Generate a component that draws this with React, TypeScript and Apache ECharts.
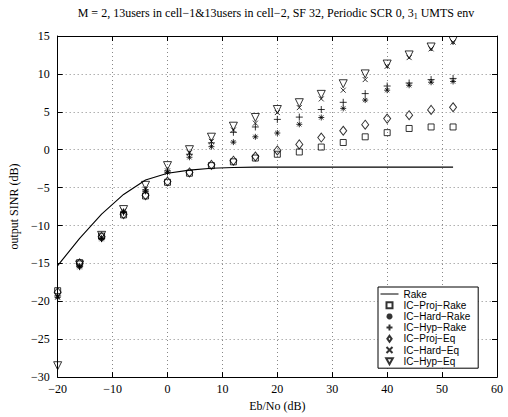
import React, { useEffect, useRef } from "react";
import * as echarts from "echarts";

const ebNo = [-20, -16, -12, -8, -4, 0, 4, 8, 12, 16, 20, 24, 28, 32, 36, 40, 44, 48, 52];
const rake = [-15.3, -11.7, -8.5, -5.9, -4.0, -3.1, -2.7, -2.45, -2.35, -2.3, -2.3, -2.3, -2.3, -2.3, -2.3, -2.3, -2.3, -2.3, -2.3];
const icProjRake = [-18.6, -14.9, -11.4, -8.6, -6.1, -4.3, -3.1, -2.1, -1.6, -1.1, -0.6, -0.3, 0.35, 0.95, 1.7, 2.25, 2.8, 3.0, 3.0];
const icHardRake = [-19.5, -15.5, -11.8, -8.3, -5.5, -3.0, -1.0, 0.4, 1.0, 1.7, 2.2, 3.35, 4.25, 5.45, 6.55, 7.85, 8.5, 8.9, 9.0];
const icHypRake = [-19.3, -15.4, -11.7, -8.2, -5.3, -2.8, -0.6, 0.9, 2.3, 3.0, 4.0, 4.3, 5.3, 6.25, 7.4, 8.4, 8.8, 9.25, 9.4];
const icProjEq = [-18.8, -15.0, -11.5, -8.5, -6.0, -4.2, -3.0, -2.0, -1.45, -0.9, -0.1, 0.7, 1.6, 2.5, 3.3, 4.1, 4.55, 5.25, 5.6];
const icHardEq = [-19.4, -15.3, -11.6, -8.1, -5.2, -2.8, -0.4, 1.1, 2.6, 3.5, 4.9, 5.55, 6.7, 7.85, 9.25, 11.0, 12.15, 13.3, 14.2];
const icHypEq = [-28.5, -15.2, -11.3, -7.9, -4.7, -2.1, 0.0, 1.65, 3.1, 4.25, 5.3, 6.2, 7.3, 8.7, 10.0, 11.3, 12.5, 13.55, 14.4];

const seriesNames = ["Rake", "IC\u2212Proj\u2212Rake", "IC\u2212Hard\u2212Rake", "IC\u2212Hyp\u2212Rake", "IC\u2212Proj\u2212Eq", "IC\u2212Hard\u2212Eq", "IC\u2212Hyp\u2212Eq"];
const titleText = "M = 2, 13users in cell\u22121&13users in cell\u22122, SF 32, Periodic SCR 0, 3{sub|1} UMTS env";
const xName = "Eb/No (dB)";
const yName = "output SINR (dB)";

const SERIF = "'Liberation Serif', 'DejaVu Serif', serif";
const SANS = "'Liberation Sans', Arial, sans-serif";

const zip = (ys: number[]) => ebNo.map((x, i) => [x, ys[i]]);
const minus = (v: number) => String(v).replace("-", "\u2212");

export default function App() {
  const ref = useRef<HTMLDivElement>(null);
  useEffect(() => {
    if (!ref.current) return;
    const chart = echarts.init(ref.current, null, { renderer: "svg" });
    const markerStyle = { color: "rgba(0,0,0,0)", borderColor: "#000", borderWidth: 1 };
    const scatter = (name: string, ys: number[], symbol: string, symbolSize: any) => ({
      name,
      type: "scatter",
      data: zip(ys),
      symbol,
      symbolSize,
      itemStyle: markerStyle,
      clip: false,
      z: 3,
    });
    const commonX = {
      type: "value",
      min: -20,
      max: 60,
      interval: 10,
      axisLine: { show: true, onZero: false, lineStyle: { color: "#000", width: 1 } },
      axisTick: { show: true, inside: true, length: 5, lineStyle: { color: "#000" } },
    };
    const commonY = {
      type: "value",
      min: -30,
      max: 15,
      interval: 5,
      axisLine: { show: true, onZero: false, lineStyle: { color: "#000", width: 1 } },
      axisTick: { show: true, inside: true, length: 5, lineStyle: { color: "#000" } },
    };
    chart.setOption({
      animation: false,
      backgroundColor: "#fff",
      grid: { left: 56, right: 11, top: 36, bottom: 32, containLabel: false },
      graphic: [
        {
          type: "text",
          x: 276,
          y: 13,
          style: {
            text: titleText,
            fontFamily: SERIF,
            fontSize: 12,
            fill: "#000",
            align: "center",
            verticalAlign: "middle",
            lineHeight: 15,
            rich: { sub: { fontSize: 8, fontFamily: SERIF, lineHeight: 15, verticalAlign: "bottom", padding: [7, 0, 0, 0] } },
          },
        },
      ],
      xAxis: [
        {
          ...commonX,
          position: "bottom",
          axisLabel: { color: "#000", fontFamily: SERIF, fontSize: 12, margin: 6, formatter: minus },
          splitLine: { show: true, lineStyle: { color: "#888", type: [1, 3], width: 1 } },
          name: xName,
          nameLocation: "middle",
          nameGap: 16,
          nameTextStyle: { color: "#000", fontFamily: SERIF, fontSize: 12 },
        },
        {
          ...commonX,
          position: "top",
          axisLabel: { show: false },
          splitLine: { show: false },
        },
      ],
      yAxis: [
        {
          ...commonY,
          position: "left",
          axisLabel: { color: "#000", fontFamily: SERIF, fontSize: 12, margin: 8, formatter: minus },
          splitLine: { show: true, lineStyle: { color: "#888", type: [1, 3], width: 1 } },
          name: yName,
          nameLocation: "middle",
          nameGap: 36,
          nameTextStyle: { color: "#000", fontFamily: SERIF, fontSize: 12 },
        },
        {
          ...commonY,
          position: "right",
          axisLabel: { show: false },
          splitLine: { show: false },
        },
      ],
      legend: {
        orient: "vertical",
        left: 378,
        top: 287,
        data: seriesNames,
        itemWidth: 18,
        itemHeight: 6,
        itemGap: 1.2,
        padding: [2, 8, 2, 2],
        borderColor: "#000",
        borderWidth: 1,
        backgroundColor: "#fff",
        selectedMode: false,
        lineStyle: { width: 1 },
        textStyle: { color: "#000", fontFamily: SANS, fontSize: 10, lineHeight: 10 },
      },
      series: [
        {
          name: seriesNames[0],
          type: "line",
          data: zip(rake),
          symbol: "none",
          showSymbol: false,
          lineStyle: { color: "#000", width: 1.1 },
          itemStyle: { color: "rgba(0,0,0,0)", borderWidth: 0 },
          z: 2,
        },
        scatter(seriesNames[1], icProjRake, "path://M0,0L10,0L10,10L0,10Z", 6),
        scatter(seriesNames[2], icHardRake, "path://M0,5L10,5M5,0L5,10M1.5,1.5L8.5,8.5M1.5,8.5L8.5,1.5", 6),
        scatter(seriesNames[3], icHypRake, "path://M0,5L10,5M5,0L5,10", 7),
        scatter(seriesNames[4], icProjEq, "path://M5,0L10,7L5,14L0,7Z", [7, 9]),
        scatter(seriesNames[5], icHardEq, "path://M0,0L10,10M0,10L10,0", 5),
        scatter(seriesNames[6], icHypEq, "path://M0,0L10,0L5,9Z", [8, 8]),
      ],
    });
    return () => chart.dispose();
  }, []);
  return <div ref={ref} style={{ position: "fixed", left: 0, top: 0, width: 508, height: 417 }} />;
}
